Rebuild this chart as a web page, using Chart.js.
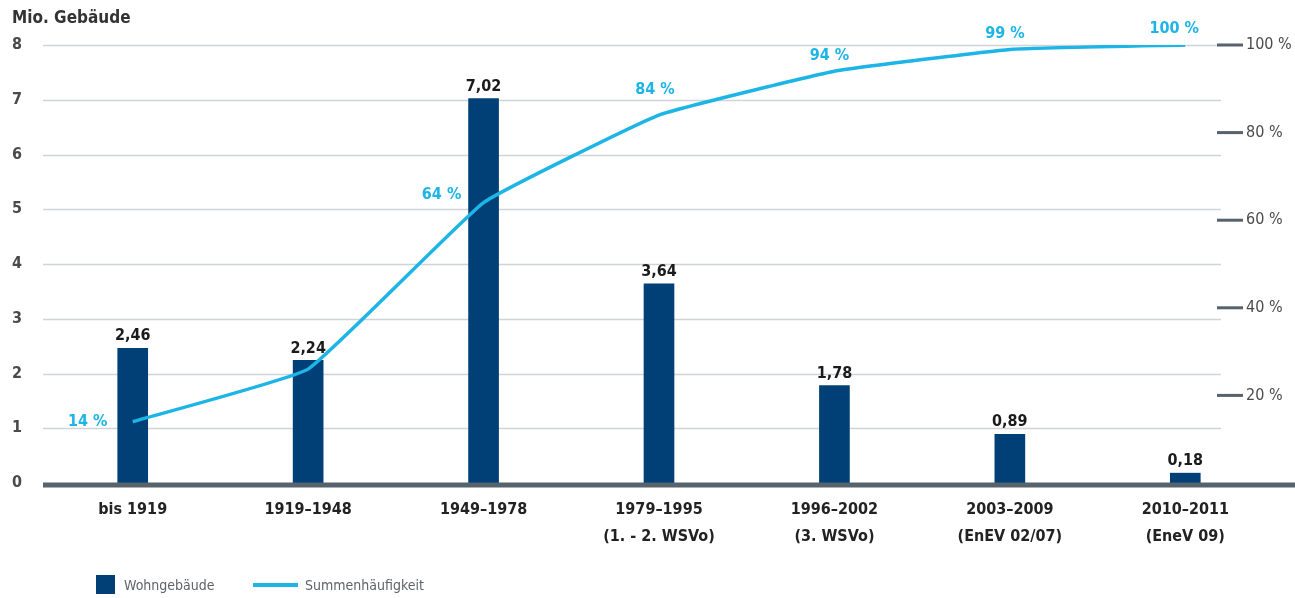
<!DOCTYPE html>
<html><head><meta charset="utf-8">
<script src="https://cdn.jsdelivr.net/npm/chart.js@4"></script>
<style>
html,body{margin:0;padding:0;background:#fff;}
#wrap{position:relative;width:1295px;height:598px;overflow:hidden;}
canvas{display:block}
.lgi{position:absolute;font-family:'DejaVu Sans Condensed','DejaVu Sans',sans-serif;font-size:14px;color:#5f6368;line-height:20px;}
.sw{position:absolute;}
</style></head><body>
<div id="wrap"><canvas id="c" width="1295" height="598"></canvas><div id="legend"></div></div>
<script>
const categories = [["bis 1919"],["1919–1948"],["1949–1978"],["1979–1995","(1. - 2. WSVo)"],["1996–2002","(3. WSVo)"],["2003–2009","(EnEV 02/07)"],["2010–2011","(EneV 09)"]];
const buildings = [2.46, 2.24, 7.02, 3.64, 1.78, 0.89, 0.18];
const cumulative = [14, 26, 64, 84, 94, 99, 100];
const cumulativeLabels = ["14 %", "", "64 %", "84 %", "94 %", "99 %", "100 %"];
const leftTicks = [0, 1, 2, 3, 4, 5, 6, 7, 8];
const rightTicks = [20, 40, 60, 80, 100];
const seriesNames = ["Wohngebäude", "Summenhäufigkeit"];
const axisTitle = "Mio. Gebäude";

const FONT = "'DejaVu Sans Condensed','DejaVu Sans',sans-serif";
const NAVY = '#004077';
const CYAN = '#1db4e6';
const DARK = '#56636c';

// label placement for the cumulative-line labels (offset of text centre from the point)
const lineLabelOffsets = [[-45, 0], null, [-42, -8], [-4, -25], [-5, -15], [-5, -16], [-11, -16]];

const deco = {
  id: 'deco',
  beforeDatasetsDraw(chart) {
    const {ctx, chartArea: a, scales: {y}} = chart;
    const gridEnd = a.right - 52;
    ctx.save();
    ctx.strokeStyle = '#cfd4d8';
    ctx.lineWidth = 1.5;
    leftTicks.forEach(v => {
      if (v === 0) return;
      const py = Math.round(y.getPixelForValue(v)) + 0.5;
      ctx.beginPath(); ctx.moveTo(a.left - 2, py); ctx.lineTo(gridEnd, py); ctx.stroke();
    });
    ctx.restore();
  },
  afterDatasetsDraw(chart) {
    const {ctx, chartArea: a, scales: {y, y1}} = chart;
    ctx.save();
    // zero line
    const y0 = y.getPixelForValue(0);
    ctx.fillStyle = DARK;
    ctx.fillRect(a.left - 2, y0 - 0.5, chart.width - a.left + 2, 5);
    // right axis
    ctx.font = "16px " + FONT;
    ctx.textBaseline = 'middle';
    ctx.textAlign = 'left';
    rightTicks.forEach(v => {
      const py = y1.getPixelForValue(v);
      ctx.fillStyle = DARK;
      ctx.fillRect(a.right - 56, py - 1.5, 26, 3);
      ctx.fillStyle = '#4a4a4a';
      ctx.fillText(v + ' %', a.right - 27, py);
    });
    // bar value labels
    const bm = chart.getDatasetMeta(0);
    ctx.font = "bold 16px " + FONT;
    ctx.fillStyle = '#1b1b1b';
    ctx.textAlign = 'center';
    ctx.textBaseline = 'bottom';
    bm.data.forEach((el, i) => {
      ctx.fillText(buildings[i].toFixed(2).replace('.', ','), el.x, el.y - 4);
    });
    // line labels
    const lm = chart.getDatasetMeta(1);
    ctx.fillStyle = CYAN;
    ctx.textBaseline = 'middle';
    lm.data.forEach((el, i) => {
      const off = lineLabelOffsets[i];
      if (!off || !cumulativeLabels[i]) return;
      ctx.fillText(cumulativeLabels[i], el.x + off[0], el.y + off[1]);
    });
    ctx.restore();
  }
};

new Chart(document.getElementById('c'), {
  data: {
    labels: categories,
    datasets: [
      {type: 'bar', label: seriesNames[0], data: buildings, backgroundColor: NAVY, barThickness: 30, yAxisID: 'y', order: 2},
      {type: 'line', label: seriesNames[1], data: cumulative, borderColor: CYAN, borderWidth: 3.5, pointRadius: 0, tension: 0.1, fill: false, yAxisID: 'y1', order: 1}
    ]
  },
  options: {
    responsive: false,
    animation: false,
    layout: {padding: {left: 12, top: 8, right: 22, bottom: 0}},
    plugins: {
      legend: {display: false},
      tooltip: {enabled: false},
      title: {display: true, text: axisTitle, align: 'start', color: '#333', font: {family: FONT, size: 17, weight: 'bold'}, padding: {top: 0, bottom: 16.6}}
    },
    scales: {
      x: {
        type: 'category', offset: true,
        grid: {display: false, drawTicks: false}, border: {display: false},
        ticks: {color: '#222', font: {family: FONT, size: 16, weight: 'bold', lineHeight: 1.7}, padding: 13, maxRotation: 0, autoSkip: false},
        afterFit(s) { s.height = 115; }
      },
      y: {
        position: 'left', min: 0, max: 8,
        grid: {display: false, drawTicks: false}, border: {display: false},
        ticks: {stepSize: 1, crossAlign: 'far', color: '#4a4a4a', font: {family: FONT, size: 16, weight: 'bold'}},
        afterBuildTicks(s) { s.ticks = leftTicks.map(v => ({value: v})); },
        afterFit(s) { s.width = 33; }
      },
      y1: {position: 'right', min: 0, max: 100, display: false}
    }
  },
  plugins: [deco]
});

// HTML legend
const lg = document.getElementById('legend');
lg.innerHTML =
  '<div class="sw" style="left:96px;top:575px;width:19px;height:19px;background:' + NAVY + '"></div>' +
  '<div class="lgi" style="left:124px;top:575px">' + seriesNames[0] + '</div>' +
  '<div class="sw" style="left:253px;top:583px;width:45px;height:4px;background:' + CYAN + '"></div>' +
  '<div class="lgi" style="left:305px;top:575px">' + seriesNames[1] + '</div>';
</script>
</body></html>
